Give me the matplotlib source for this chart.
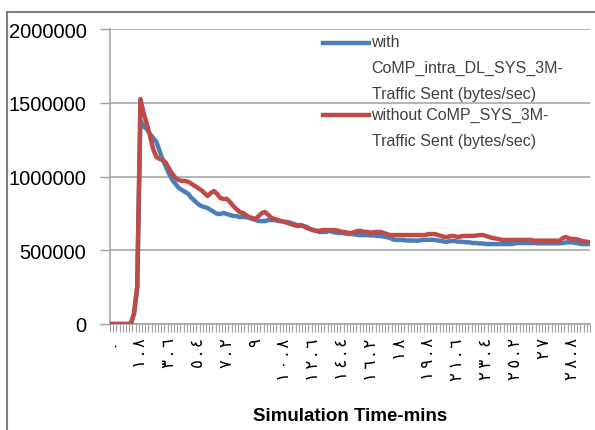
import matplotlib

matplotlib.use("Agg")
import matplotlib.pyplot as plt
from matplotlib.legend_handler import HandlerLine2D
from matplotlib.patches import Rectangle

# simulation time in minutes, one sample every 0.2 min
time_min = [round(0.2 * i, 1) for i in range(150)]

# traffic sent (bytes/sec), thousands
with_comp_k = [
    0, 0, 0, 0, 0, 0, 0, 70, 250, 1380,
    1340, 1322, 1288, 1261, 1234, 1173, 1112, 1064, 1017, 976,
    949, 922, 908, 895, 881, 854, 834, 814, 800, 793,
    786, 773, 759, 746, 746, 753, 746, 739, 732, 732,
    725, 725, 725, 719, 712, 705, 698, 698, 698, 705,
    705, 705, 698, 698, 692, 692, 685, 678, 671, 668,
    664, 658, 644, 637, 631, 624, 624, 624, 631, 624,
    620, 617, 617, 614, 610, 610, 607, 603, 603, 603,
    603, 600, 600, 597, 597, 593, 590, 583, 573, 570,
    570, 570, 566, 566, 566, 565, 565, 570, 570, 571,
    571, 570, 566, 563, 558, 558, 563, 563, 559, 558,
    556, 554, 553, 549, 549, 546, 546, 542, 542, 542,
    542, 542, 542, 542, 542, 542, 546, 549, 549, 549,
    549, 549, 549, 547, 547, 547, 547, 547, 547, 547,
    547, 549, 553, 554, 553, 549, 546, 542, 542, 542,
]
without_comp_k = [
    0, 0, 0, 0, 0, 0, 0, 70, 250, 1525,
    1430, 1356, 1275, 1186, 1132, 1119, 1112, 1092, 1051, 1017,
    990, 976, 970, 970, 963, 950, 936, 922, 908, 888,
    868, 888, 902, 881, 854, 848, 848, 827, 800, 780,
    759, 753, 739, 725, 719, 712, 732, 753, 759, 739,
    719, 712, 705, 698, 692, 685, 678, 671, 664, 671,
    664, 651, 644, 637, 631, 631, 637, 637, 637, 637,
    637, 631, 624, 624, 617, 617, 624, 631, 631, 624,
    624, 617, 624, 624, 624, 617, 610, 603, 603, 603,
    603, 603, 603, 603, 603, 603, 603, 603, 603, 610,
    610, 610, 603, 597, 590, 590, 597, 597, 590, 593,
    597, 597, 597, 597, 600, 603, 603, 597, 590, 583,
    580, 576, 570, 570, 570, 570, 570, 570, 570, 570,
    570, 570, 565, 565, 565, 565, 565, 565, 565, 565,
    565, 583, 590, 580, 576, 576, 570, 563, 559, 556,
]

series_labels = [
    "with\nCoMP_intra_DL_SYS_3M-\nTraffic Sent (bytes/sec)",
    "without CoMP_SYS_3M-\nTraffic Sent (bytes/sec)",
]
y_ticks = [0, 500000, 1000000, 1500000, 2000000]
label_every = 9

ARABIC = str.maketrans("0123456789", "٠١٢٣٤٥٦٧٨٩")
FONT = "Liberation Sans"
LEG_SIZE = 11.5
LEG_LINESPACING = 1.9


def arabic_label(t: float) -> str:
    s = f"{t:.1f}".rstrip("0").rstrip(".")
    # thin spaces spread the stacked digits out like the original
    return "\u2009".join(s.translate(ARABIC))


class TopAlignedLine(HandlerLine2D):
    """Put the legend line next to the first text line, like Excel does."""

    def create_artists(self, legend, orig_handle, xdescent, ydescent,
                       width, height, fontsize, trans):
        artists = super().create_artists(legend, orig_handle, xdescent, ydescent,
                                         width, height, fontsize, trans)
        n_lines = orig_handle.get_label().count("\n") + 1
        pitch = fontsize * LEG_LINESPACING * 0.83
        shift = (n_lines - 1) * pitch / 2
        for a in artists:
            a.set_ydata([y + shift for y in a.get_ydata()])
        return artists


fig = plt.figure(figsize=(5.95, 4.31), dpi=100)
ax = fig.add_axes([110 / 595, 1 - 325 / 431, 480 / 595, 295 / 431])

idx = list(range(len(time_min)))
with_vals = [v * 1000 for v in with_comp_k]
without_vals = [v * 1000 for v in without_comp_k]
l1, = ax.plot(idx, with_vals, color="#4a7ebb", lw=3.2, label=series_labels[0],
              solid_joinstyle="round", zorder=3)
l2, = ax.plot(idx, without_vals, color="#be4b48", lw=3.2, label=series_labels[1],
              solid_joinstyle="round", zorder=4)

ax.set_xlim(-0.5, len(idx) - 0.5)
ax.set_ylim(0, 2000000)
ax.set_yticks(y_ticks)
ax.set_yticklabels([str(v) for v in y_ticks], fontsize=14.5, family=FONT)
ax.yaxis.grid(True, color="#a0a0a0", lw=1.1)
ax.set_axisbelow(True)

ax.set_xticks([i - 0.5 for i in idx] + [len(idx) - 0.5])
ax.set_xticklabels([])
ax.tick_params(axis="x", length=6, color="#a0a0a0", width=0.8)
ax.tick_params(axis="y", length=7, color="#a0a0a0", width=1, pad=10)
for i in idx[::label_every]:
    ax.text(i, -0.045, arabic_label(time_min[i]), transform=ax.get_xaxis_transform(),
            rotation=90, ha="center", va="top", fontsize=12, family="DejaVu Sans")

for side in ("top", "right"):
    ax.spines[side].set_visible(False)
for side in ("left", "bottom"):
    ax.spines[side].set_color("#a0a0a0")
    ax.spines[side].set_linewidth(1.1)

ax.set_xlabel("Simulation Time-mins", fontsize=13.5, fontweight="bold",
              family=FONT, labelpad=50)

leg = ax.legend(handles=[l1, l2], loc="upper left", bbox_to_anchor=(0.43, 1.005),
                frameon=False, handlelength=2.9, handletextpad=0.15,
                labelspacing=0.38, borderaxespad=0,
                prop={"family": FONT, "size": LEG_SIZE},
                handler_map={l1: TopAlignedLine(), l2: TopAlignedLine()})
for text in leg.get_texts():
    text.set_linespacing(LEG_LINESPACING)
    text.set_color("#404040")

# outer chart frame
fig.patches.append(Rectangle((7 / 595, -0.1), 1.2, 1 - 13 / 431 + 0.1,
                             transform=fig.transFigure, fill=False,
                             edgecolor="#808080", lw=1.5))

fig.savefig("out.png", dpi=100)
